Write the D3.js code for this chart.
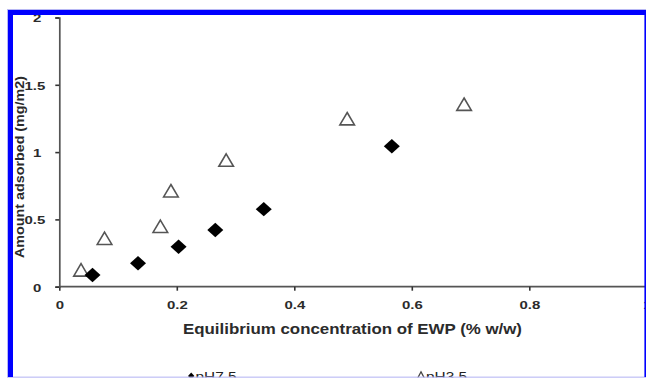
<!DOCTYPE html>
<html>
<head>
<meta charset="utf-8">
<script src="https://cdn.jsdelivr.net/npm/d3@7"></script>
<style>
  html, body { margin: 0; padding: 0; background: #fff; }
  svg { display: block; }
  text { font-family: Arial, "Liberation Sans", sans-serif; }
</style>
</head>
<body>
<svg id="chart" width="646" height="378"></svg>
<script>
// Adsorbed amount of egg white protein versus equilibrium concentration
const conc75 = [0.0565, 0.134, 0.203, 0.2655, 0.348, 0.566];
const amount75 = [0.087, 0.174, 0.297, 0.421, 0.576, 1.044];
const conc35 = [0.037, 0.077, 0.172, 0.190, 0.284, 0.490, 0.689];
const amount35 = [0.125, 0.360, 0.449, 0.713, 0.941, 1.248, 1.356];

const xTicks = [0, 0.2, 0.4, 0.6, 0.8, 1];
const yTicks = [0, 0.5, 1, 1.5, 2];
const seriesNames = ["pH7.5", "pH3.5"];
const xTitle = "Equilibrium concentration of EWP (% w/w)";
const yTitle = "Amount adsorbed (mg/m2)";

const svg = d3.select("#chart");
const W = 646, H = 378;

const x = d3.scaleLinear().domain([0, 1]).range([59.3, 646.8]);
const y = d3.scaleLinear().domain([0, 2]).range([286.7, 17.5]);

// custom marker shapes
const diamond = {
  draw(ctx, size) {
    const w = 8, h = 7.2;
    ctx.moveTo(0, -h); ctx.lineTo(w, 0); ctx.lineTo(0, h); ctx.lineTo(-w, 0); ctx.closePath();
  }
};
const triangle = {
  draw(ctx, size) {
    const w = 7.3, h = 6.2;
    ctx.moveTo(0, -h); ctx.lineTo(w, h); ctx.lineTo(-w, h); ctx.closePath();
  }
};
const smallDiamond = {
  draw(ctx) { ctx.moveTo(0, -3.5); ctx.lineTo(3.2, 0); ctx.lineTo(0, 3.5); ctx.lineTo(-3.2, 0); ctx.closePath(); }
};
const smallTriangle = {
  draw(ctx) { ctx.moveTo(0, -4.2); ctx.lineTo(4.3, 4); ctx.lineTo(-4.3, 4); ctx.closePath(); }
};

// stretch helper for text drawn wider than its font
function widen(sel, k) {
  sel.each(function () {
    const len = this.getComputedTextLength();
    d3.select(this).attr("textLength", len * k).attr("lengthAdjust", "spacingAndGlyphs");
  });
}

// axes
const axisColor = "#555";
const gx = svg.append("g").attr("transform", `translate(0,${y(0)})`)
  .call(d3.axisBottom(x).tickValues(xTicks).tickSize(4).tickPadding(10)
    .tickFormat(d => d === 0 ? "0" : d3.format("")(d)));
const gy = svg.append("g").attr("transform", `translate(${x(0)},0)`)
  .call(d3.axisLeft(y).tickValues(yTicks).tickSize(4).tickPadding(10)
    .tickFormat(d => String(d)));

[gx, gy].forEach(g => {
  g.select(".domain").attr("stroke", axisColor).attr("stroke-width", 1.7);
  g.selectAll(".tick line").attr("stroke", "#333").attr("stroke-width", 1.6);
  g.selectAll(".tick text").attr("fill", "#2b2b2b").attr("font-size", 11.5)
    .attr("font-weight", "bold");
});
gx.select(".domain").attr("d", `M${x(0)},0H${W}`);
gx.selectAll(".tick text").attr("dy", "0.71em").call(widen, 1.3);
gy.selectAll(".tick text").attr("dy", "0.38em").call(widen, 1.3);
gy.selectAll(".tick text").filter(d => Number.isInteger(d)).attr("dx", -4);

// axis titles
svg.append("text")
  .attr("x", 183).attr("y", 334)
  .attr("font-size", 14).attr("font-weight", "bold").attr("fill", "#2b2b2b")
  .attr("textLength", 339).attr("lengthAdjust", "spacingAndGlyphs")
  .text(xTitle);

svg.append("text")
  .attr("transform", "translate(23.8,258) rotate(-90)")
  .attr("font-size", 13.5).attr("font-weight", "bold").attr("fill", "#2b2b2b")
  .attr("textLength", 182).attr("lengthAdjust", "spacingAndGlyphs")
  .text(yTitle);

// series markers
const pts75 = conc75.map((c, i) => [c, amount75[i]]);
const pts35 = conc35.map((c, i) => [c, amount35[i]]);

svg.append("g").selectAll("path").data(pts35).join("path")
  .attr("transform", d => `translate(${x(d[0])},${y(d[1])})`)
  .attr("d", d3.symbol().type(triangle))
  .attr("fill", "#fff").attr("stroke", "#555").attr("stroke-width", 1.6)
  .attr("stroke-linejoin", "miter");

svg.append("g").selectAll("path").data(pts75).join("path")
  .attr("transform", d => `translate(${x(d[0])},${y(d[1])})`)
  .attr("d", d3.symbol().type(diamond))
  .attr("fill", "#000");

// legend
const legend = svg.append("g");
const legendItems = [
  { name: seriesNames[0], sx: 191.2, tx: 195.5, sym: smallDiamond, fill: "#000", stroke: "none" },
  { name: seriesNames[1], sx: 421, tx: 426, sym: smallTriangle, fill: "#fff", stroke: "#444" }
];
legendItems.forEach(it => {
  legend.append("path")
    .attr("transform", `translate(${it.sx},376)`)
    .attr("d", d3.symbol().type(it.sym))
    .attr("fill", it.fill).attr("stroke", it.stroke).attr("stroke-width", 1.3);
  legend.append("text")
    .attr("x", it.tx).attr("y", 380.5)
    .attr("font-size", 12).attr("fill", "#222")
    .attr("textLength", 41).attr("lengthAdjust", "spacingAndGlyphs")
    .text(it.name);
});

// frame
const frame = svg.append("g");
frame.append("rect").attr("x", 0).attr("y", 377.5).attr("width", W).attr("height", 1).attr("fill", "#fff");
frame.append("rect").attr("x", 7).attr("y", 376.6).attr("width", W - 7).attr("height", 1.1).attr("fill", "#b8b8f4");
frame.append("rect").attr("x", 7).attr("y", 9).attr("width", W - 7).attr("height", 1).attr("fill", "#b8b8f4");
frame.append("rect").attr("x", 7).attr("y", 9).attr("width", 1).attr("height", 368).attr("fill", "#b8b8f4");
frame.append("rect").attr("x", 8).attr("y", 10).attr("width", W - 8).attr("height", 5).attr("fill", "#0000ff");
frame.append("rect").attr("x", 8).attr("y", 10).attr("width", 5).attr("height", 367).attr("fill", "#0000ff");
frame.append("rect").attr("x", 644.4).attr("y", 10).attr("width", 1.6).attr("height", 367).attr("fill", "#0000ff");
</script>
</body>
</html>
